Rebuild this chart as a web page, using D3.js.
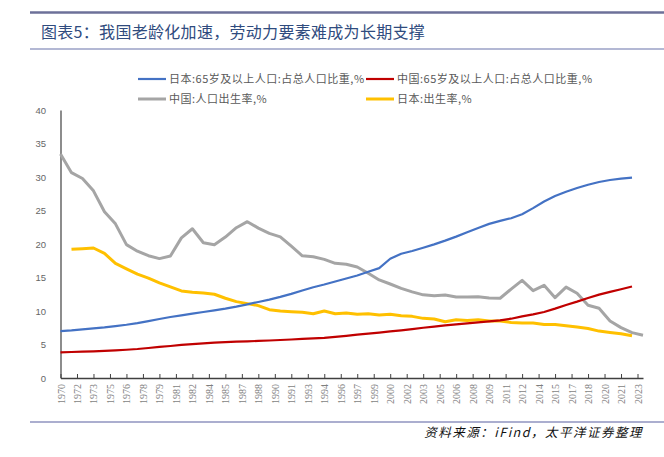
<!DOCTYPE html>
<html>
<head>
<meta charset="utf-8">
<script src="https://cdn.jsdelivr.net/npm/d3@7"></script>
<style>
  body { margin: 0; background: #fff; }
  svg { display: block; }
</style>
</head>
<body>
<svg id="chart" width="664" height="457"></svg>
<script>
// data, one value per year 1970-2023 (null = no value)
var years = d3.range(1970, 2024);

var japanOld = [7.0, 7.1, 7.25, 7.4, 7.55, 7.75, 7.95, 8.2, 8.5, 8.8,
  9.1, 9.35, 9.6, 9.85, 10.1, 10.35, 10.65, 11.0, 11.35, 11.7,
  12.1, 12.55, 13.05, 13.55, 13.95, 14.4, 14.85, 15.3, 15.85, 16.4,
  17.8, 18.55, 18.95, 19.45, 19.95, 20.5, 21.1, 21.75, 22.4, 23.0,
  23.45, 23.85, 24.45, 25.35, 26.35, 27.15, 27.8, 28.35, 28.85, 29.25,
  29.55, 29.75, 29.9, null];

var chinaOld = [3.83, 3.88, 3.93, 3.98, 4.05, 4.13, 4.22, 4.33, 4.48, 4.65,
  4.78, 4.93, 5.05, 5.17, 5.27, 5.35, 5.42, 5.48, 5.53, 5.6,
  5.67, 5.75, 5.85, 5.92, 6.0, 6.15, 6.3, 6.48, 6.62, 6.78,
  6.95, 7.12, 7.3, 7.5, 7.68, 7.85, 8.0, 8.15, 8.3, 8.45,
  8.6, 8.85, 9.2, 9.5, 9.85, 10.35, 10.9, 11.4, 11.95, 12.45,
  12.85, 13.25, 13.65, null];

var chinaBirth = [33.43, 30.65, 29.77, 27.93, 24.82, 23.01, 19.91, 18.93, 18.25, 17.82,
  18.21, 20.91, 22.28, 20.19, 19.9, 21.04, 22.43, 23.33, 22.37, 21.58,
  21.06, 19.68, 18.24, 18.09, 17.7, 17.12, 16.98, 16.57, 15.64, 14.64,
  14.03, 13.38, 12.86, 12.41, 12.29, 12.4, 12.09, 12.1, 12.14, 11.95,
  11.9, 13.27, 14.57, 13.03, 13.83, 11.99, 13.57, 12.64, 10.86, 10.41,
  8.52, 7.52, 6.77, 6.39];

var japanBirth = [null, 19.2, 19.3, 19.4, 18.6, 17.1, 16.3, 15.5, 14.9, 14.2,
  13.6, 13.0, 12.8, 12.7, 12.5, 11.9, 11.4, 11.1, 10.8, 10.2,
  10.0, 9.9, 9.8, 9.6, 10.0, 9.6, 9.7, 9.5, 9.6, 9.4,
  9.5, 9.3, 9.2, 8.9, 8.8, 8.4, 8.7, 8.6, 8.7, 8.5,
  8.5, 8.3, 8.2, 8.2, 8.0, 8.0, 7.8, 7.6, 7.4, 7.0,
  6.8, 6.6, 6.3, null];

var yTicks = [0, 5, 10, 15, 20, 25, 30, 35, 40];
// category labels fall every year and a half
var xTicks = d3.range(0, 36).map(function (i) { return 1970 + 1.5 * i; });

var seriesNames = ["日本:65岁及以上人口:占总人口比重,%", "中国:65岁及以上人口:占总人口比重,%",
  "中国:人口出生率,%", "日本:出生率,%"];
var seriesValues = [japanOld, chinaOld, chinaBirth, japanBirth];
var seriesColors = ["#4472C4", "#C00000", "#A5A5A5", "#FFC000"];
var seriesWidths = [2.2, 2.2, 3, 3];

var svg = d3.select("#chart");
var cjk = "'Noto Sans CJK SC', 'Noto Sans', sans-serif";

// frame lines and title
svg.append("line").attr("x1", 30).attr("x2", 664).attr("y1", 12.5).attr("y2", 12.5)
  .style("stroke", "#6C7099").style("stroke-width", 2.5);
svg.append("line").attr("x1", 30).attr("x2", 664).attr("y1", 49).attr("y2", 49)
  .style("stroke", "#B3B8D4").style("stroke-width", 2);
svg.append("line").attr("x1", 30).attr("x2", 664).attr("y1", 422).attr("y2", 422)
  .style("stroke", "#8F93BF").style("stroke-width", 1.5);

svg.append("text").attr("x", 41).attr("y", 38)
  .style("font-family", cjk).style("font-size", "16px").style("fill", "#2F4B7E")
  .style("letter-spacing", "0.3px")
  .text("图表5：我国老龄化加速，劳动力要素难成为长期支撑");

svg.append("text").attr("x", 643).attr("y", 437).attr("text-anchor", "end")
  .style("font-family", cjk).style("font-size", "12.5px").style("font-style", "italic")
  .style("letter-spacing", "1.5px").style("fill", "#111")
  .text("资料来源：iFind，太平洋证券整理");

// scales
var x = d3.scaleLinear().domain([1970, 2023]).range([60.5, 643]);
var y = d3.scaleLinear().domain([0, 40]).range([378, 110]);

// y axis
var yAxis = svg.append("g").attr("transform", "translate(60.5,0)")
  .call(d3.axisLeft(y).tickValues(yTicks).tickSize(0).tickPadding(14.5));
yAxis.select(".domain").style("stroke", "#404040").style("stroke-width", 1.2);
yAxis.selectAll("text").style("font-family", "'Liberation Sans', Arial, sans-serif")
  .style("font-size", "9.5px").style("fill", "#666");

// x axis
var xAxis = svg.append("g").attr("transform", "translate(0,378)")
  .call(d3.axisBottom(x).tickValues(xTicks).tickSizeInner(-4).tickSizeOuter(0)
    .tickFormat(function (d) { return Math.ceil(d); }));
xAxis.select(".domain").style("stroke", "#404040").style("stroke-width", 1.5);
xAxis.selectAll(".tick line").style("stroke", "#404040");
xAxis.selectAll("text")
  .attr("transform", "rotate(-90)")
  .attr("x", -6).attr("y", 0).attr("dy", "0.35em")
  .style("text-anchor", "end")
  .style("font-family", "'Liberation Serif', 'Times New Roman', serif")
  .style("font-size", "10px").style("fill", "#7F7F7F");

// lines, gray and yellow drawn first so blue/red sit on top like the reference
var line = d3.line()
  .defined(function (d) { return d != null; })
  .x(function (d, i) { return x(years[i]); })
  .y(function (d) { return y(d); });

[2, 3, 0, 1].forEach(function (k) {
  svg.append("path")
    .datum(seriesValues[k])
    .attr("d", line)
    .style("fill", "none")
    .style("stroke", seriesColors[k])
    .style("stroke-width", seriesWidths[k])
    .style("stroke-linejoin", "round");
});

// legend
var legendPos = [[138, 79], [366, 79], [138, 99], [366, 99]];
seriesNames.forEach(function (name, k) {
  var g = svg.append("g").attr("transform", "translate(" + legendPos[k][0] + "," + legendPos[k][1] + ")");
  g.append("line").attr("x1", 0).attr("x2", 28).attr("y1", 0).attr("y2", 0)
    .style("stroke", seriesColors[k]).style("stroke-width", seriesWidths[k]);
  g.append("text").attr("x", 31).attr("y", 0).attr("dy", "0.35em")
    .style("font-family", cjk).style("font-size", "11px").style("letter-spacing", "0.5px")
    .style("fill", "#595959")
    .text(name);
});
</script>
</body>
</html>
